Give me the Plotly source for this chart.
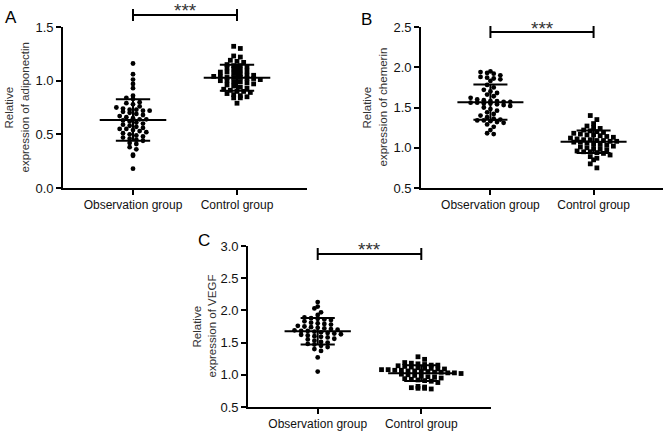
import numpy as np
import plotly.graph_objects as go

# ---------------- data ----------------
groups = ["Observation group", "Control group"]

adiponectin_obs = [1.16, 1.06, 1.01, 0.97, 0.93, 0.86, 0.84, 0.83, 0.80, 0.79, 0.78, 0.76, 0.75, 0.74,
                   0.73, 0.73, 0.72, 0.72, 0.71, 0.70, 0.69, 0.68, 0.67, 0.66, 0.65, 0.64, 0.64, 0.63,
                   0.62, 0.61, 0.60, 0.59, 0.58, 0.57, 0.56, 0.55, 0.55, 0.54, 0.53, 0.52, 0.51, 0.50,
                   0.49, 0.48, 0.47, 0.46, 0.45, 0.44, 0.42, 0.41, 0.38, 0.36, 0.31, 0.30, 0.18]
adiponectin_ctrl = [1.32, 1.30, 1.23, 1.22, 1.19, 1.18, 1.17, 1.15, 1.14, 1.14, 1.13, 1.12, 1.11, 1.10,
                    1.09, 1.08, 1.08, 1.07, 1.06, 1.05, 1.05, 1.04, 1.04, 1.03, 1.03, 1.03, 1.02, 1.02,
                    1.01, 1.00, 1.00, 0.99, 0.99, 0.98, 0.97, 0.96, 0.95, 0.94, 0.93, 0.92, 0.91, 0.90,
                    0.90, 0.89, 0.88, 0.87, 0.86, 0.85, 0.84, 0.84, 0.79]

chemerin_obs = [1.95, 1.94, 1.93, 1.92, 1.90, 1.88, 1.87, 1.86, 1.85, 1.83, 1.78, 1.75, 1.72, 1.70,
                1.68, 1.66, 1.64, 1.62, 1.60, 1.59, 1.58, 1.58, 1.57, 1.57, 1.56, 1.56, 1.55, 1.55,
                1.54, 1.53, 1.52, 1.50, 1.48, 1.46, 1.44, 1.42, 1.40, 1.38, 1.36, 1.35, 1.34, 1.34,
                1.33, 1.32, 1.31, 1.29, 1.26, 1.22, 1.18, 1.17]
chemerin_ctrl = [1.40, 1.35, 1.30, 1.27, 1.25, 1.24, 1.22, 1.21, 1.20, 1.19, 1.18, 1.17, 1.16, 1.16,
                 1.15, 1.14, 1.13, 1.12, 1.11, 1.10, 1.10, 1.09, 1.09, 1.08, 1.08, 1.07, 1.07, 1.06,
                 1.05, 1.04, 1.03, 1.02, 1.01, 1.00, 0.99, 0.98, 0.97, 0.96, 0.95, 0.95, 0.94, 0.93,
                 0.91, 0.89, 0.87, 0.85, 0.80, 0.75]

vegf_obs = [2.13, 2.06, 2.03, 1.97, 1.93, 1.89, 1.88, 1.87, 1.86, 1.85, 1.83, 1.81, 1.80, 1.79,
            1.78, 1.76, 1.75, 1.74, 1.73, 1.72, 1.71, 1.70, 1.69, 1.68, 1.68, 1.67, 1.66, 1.65,
            1.64, 1.63, 1.62, 1.61, 1.60, 1.59, 1.58, 1.56, 1.55, 1.53, 1.51, 1.50, 1.48, 1.47,
            1.45, 1.43, 1.40, 1.37, 1.27, 1.05]
vegf_ctrl = [1.28, 1.24, 1.19, 1.18, 1.17, 1.16, 1.15, 1.15, 1.14, 1.13, 1.12, 1.11, 1.10, 1.10,
             1.09, 1.09, 1.08, 1.08, 1.07, 1.07, 1.06, 1.06, 1.05, 1.05, 1.04, 1.04, 1.03, 1.03,
             1.02, 1.01, 1.00, 0.99, 0.98, 0.97, 0.96, 0.95, 0.94, 0.93, 0.92, 0.91, 0.90, 0.88,
             0.82, 0.81, 0.80, 0.79, 0.79, 0.78]

panel_letters = ["A", "B", "C"]
y_title_line1 = ["Relative", "Relative", "Relative"]
y_title_line2 = ["expression of adiponectin", "expression of chemerin", "expression of VEGF"]
y_ranges = [[0.0, 1.5], [0.5, 2.5], [0.5, 3.0]]
sig_label = "***"

# ---------------- layout constants ----------------
W, H = 669, 435
FONT = "Arial, Liberation Sans, sans-serif"
XR = [-0.673, 1.673]

# pixel boxes of the three plot areas: (x0, x1, ytop, ybottom)
boxes = [(63, 307, 27, 188), (421, 663, 27, 188), (248, 491, 246, 407)]
letter_pos = [(11, 17.5), (366, 19.5), (204, 240)]
ytitle_x = [(9, 25), (367, 383), (196, 211)]
bracket_px = [15, 32, 254]

datasets = [(adiponectin_obs, adiponectin_ctrl),
            (chemerin_obs, chemerin_ctrl),
            (vegf_obs, vegf_ctrl)]


def px2paper_x(px):
    return px / W


def px2paper_y(py):
    return 1 - py / H


def swarm(vals, center, yr, h_px, row_px=4.4, step=0.064):
    vals = sorted(vals, reverse=True)
    bins = {}
    for v in vals:
        k = int(round((v - yr[0]) / (yr[1] - yr[0]) * h_px / row_px))
        bins.setdefault(k, []).append(v)
    xs, ys = [], []
    for k, vs in bins.items():
        n = len(vs)
        for i, v in enumerate(vs):
            xs.append(center + (i - (n - 1) / 2) * step)
            ys.append(v)
    return xs, ys


fig = go.Figure()
annotations = []
shapes = []

for p, ((obs, ctrl), yr, box) in enumerate(zip(datasets, y_ranges, boxes)):
    x0, x1, yt, yb = box
    sfx = "" if p == 0 else str(p + 1)
    xa, ya = "x" + sfx, "y" + sfx
    h_px = yb - yt
    for gi, (vals, sym) in enumerate([(obs, "circle"), (ctrl, "square")]):
        xs, ys = swarm(vals, gi, yr, h_px)
        fig.add_trace(go.Scatter(x=xs, y=ys, mode="markers", xaxis=xa, yaxis=ya,
                                 marker=dict(symbol=sym, size=4.8, color="black",
                                             line=dict(width=0)),
                                 showlegend=False, hoverinfo="y"))
        m = float(np.mean(vals))
        s = float(np.std(vals, ddof=1))
        c = gi
        lx = [c - 0.32, c + 0.32, None, c - 0.165, c + 0.165, None,
              c - 0.165, c + 0.165, None, c, c]
        ly = [m, m, None, m + s, m + s, None, m - s, m - s, None, m - s, m + s]
        fig.add_trace(go.Scatter(x=lx, y=ly, mode="lines", xaxis=xa, yaxis=ya,
                                 line=dict(color="black", width=2),
                                 showlegend=False, hoverinfo="skip"))

    axis_common = dict(showline=True, linecolor="black", linewidth=1.8,
                       ticks="outside", ticklen=5, tickwidth=1.8, tickcolor="black",
                       showgrid=False, zeroline=False, automargin=False, fixedrange=True)
    fig.update_layout(**{
        ("xaxis" + sfx): dict(domain=[px2paper_x(x0), px2paper_x(x1)], range=XR,
                              tickvals=[0, 1], ticktext=groups, anchor=ya,
                              tickfont=dict(family=FONT, size=12, color="#111"),
                              **axis_common),
        ("yaxis" + sfx): dict(domain=[px2paper_y(yb), px2paper_y(yt)], range=yr,
                              dtick=0.5, tick0=0, tickformat=".1f", anchor=xa,
                              tickfont=dict(family=FONT, size=13, color="#111"),
                              **axis_common),
    })

    # panel letter
    lx_, ly_ = letter_pos[p]
    annotations.append(dict(text=panel_letters[p], x=px2paper_x(lx_), y=px2paper_y(ly_),
                            xref="paper", yref="paper", showarrow=False,
                            xanchor="center", yanchor="middle",
                            font=dict(family=FONT, size=17, color="black")))
    # y title (two lines)
    for txt, tx in zip((y_title_line1[p], y_title_line2[p]), ytitle_x[p]):
        annotations.append(dict(text=txt, x=px2paper_x(tx),
                                y=px2paper_y((yt + yb) / 2), xref="paper", yref="paper",
                                showarrow=False, textangle=-90, xanchor="center",
                                yanchor="middle",
                                font=dict(family=FONT, size=11.5, color="#333333")))
    # significance bracket
    by = px2paper_y(bracket_px[p])
    cap = 6 / H
    shapes.append(dict(type="line", xref=xa, yref="paper", x0=0, x1=1, y0=by, y1=by,
                       line=dict(color="black", width=2)))
    for cx in (0, 1):
        shapes.append(dict(type="line", xref=xa, yref="paper", x0=cx, x1=cx,
                           y0=by - cap, y1=by + cap, line=dict(color="black", width=2)))
    annotations.append(dict(text=sig_label, x=0.5, xref=xa, y=by + 4 / H, yref="paper",
                            showarrow=False, xanchor="center", yanchor="middle",
                            font=dict(family=FONT, size=19, color="#333")))

fig.update_layout(width=W, height=H, margin=dict(l=0, r=0, t=0, b=0, autoexpand=False),
                  paper_bgcolor="white", plot_bgcolor="white",
                  annotations=annotations, shapes=shapes, showlegend=False)

fig.write_html("out.html", config={"displayModeBar": False},
               post_script="document.body.style.margin='0px';"
                           "document.body.style.overflow='hidden';")
